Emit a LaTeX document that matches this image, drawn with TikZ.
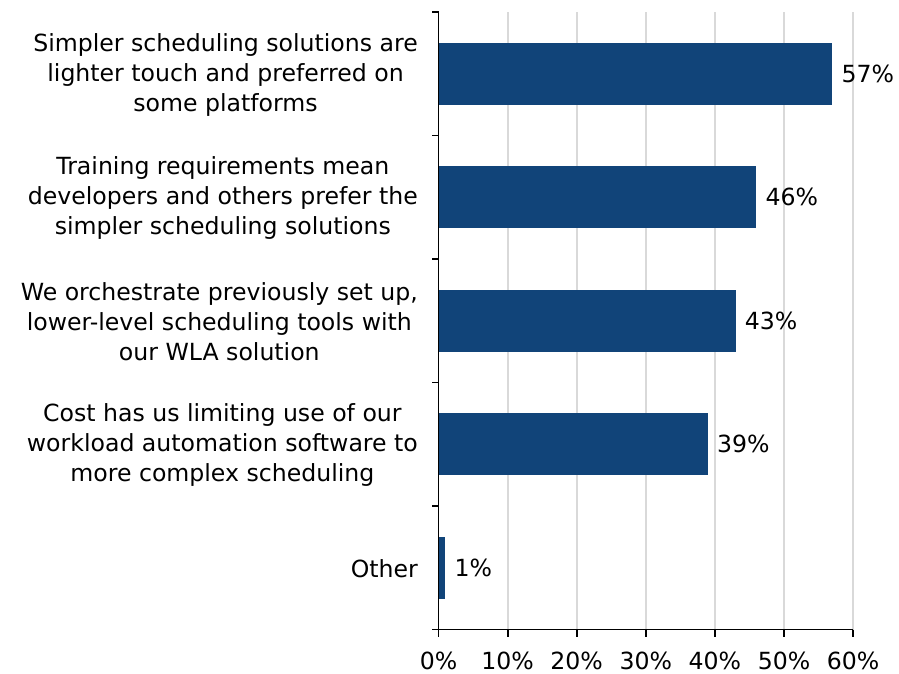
\documentclass[tikz,border=0pt]{standalone}
\usepackage{fontspec}
\setmainfont{DejaVu Sans}
\definecolor{barblue}{RGB}{17,68,121}
\definecolor{gridgray}{RGB}{217,217,217}
\begin{document}
\begin{tikzpicture}[x=1pt,y=-1pt,
  lbl/.style={font=\fontsize{23.6}{30}\selectfont, inner sep=0pt},
  cat/.style={lbl, anchor=east, align=center},
  axisline/.style={line width=1.8pt, black},
  gridline/.style={line width=2pt, gridgray}]
\useasboundingbox (0,0) rectangle (899,673);
% grid
\foreach \k in {1,...,6}
  \draw[gridline] (438.5+69.1*\k,12) -- (438.5+69.1*\k,629.5);
% bars and value labels
\foreach \v/\i in {57/1,46/2,43/3,39/4,1/5} {
  \fill[barblue] (438.5,12+123.5*\i-61.75-31) rectangle (438.5+6.91*\v,12+123.5*\i-61.75+31);
  \node[lbl, anchor=west] (val\i) at (438.5+6.91*\v+9,12+123.5*\i-61.75) {\v\%};
}
% axes
\draw[axisline] (438.5,12) -- (438.5,629.5);
\foreach \i in {0,...,5}
  \draw[axisline] (432,12+123.5*\i) -- (438.5,12+123.5*\i);
\draw[axisline] (432,629.5) -- (853.1,629.5);
\foreach \k in {0,...,6} {
  \draw[axisline] (438.5+69.1*\k,629.5) -- (438.5+69.1*\k,636.5);
  \pgfmathtruncatemacro{\pc}{10*\k}
  \node[lbl, anchor=base] (tick\k) at (438.5+69.1*\k,669) {\pc\%};
}
% category labels
\node[cat] (c1) at (418,74.5) {Simpler scheduling solutions are\\lighter touch and preferred on\\some platforms};
\node[cat] (c2) at (418,198) {Training requirements mean\\developers and others prefer the\\simpler scheduling solutions};
\node[cat] (c3) at (418,321.5) {We orchestrate previously set up,\\lower-level scheduling tools with\\our WLA solution};
\node[cat] (c4) at (418,445) {Cost has us limiting use of our\\workload automation software to\\more complex scheduling};
\node[cat] (c5) at (418,568.5) {Other};
\end{tikzpicture}
\end{document}
